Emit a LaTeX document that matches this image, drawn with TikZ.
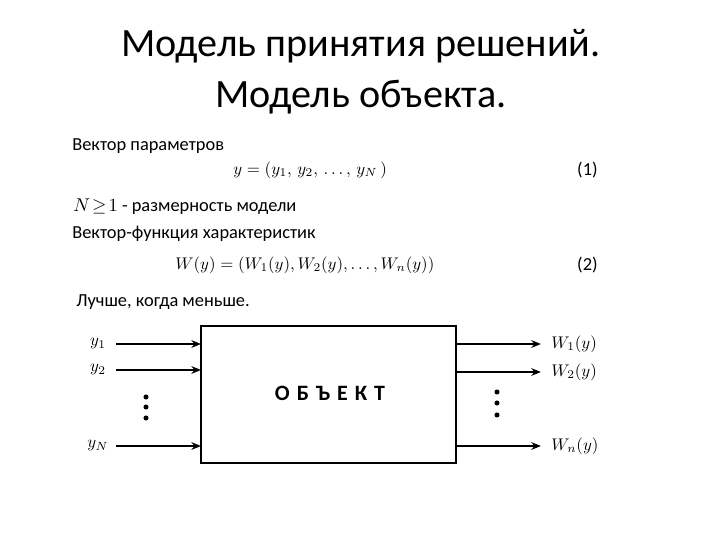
\documentclass[tikz,border=0pt]{standalone}
\usepackage{fontspec}
\setmainfont{Carlito}
\usetikzlibrary{arrows.meta,positioning}

\begin{document}
\begin{tikzpicture}[
  x=1cm/48, y=-1cm/48,
  font=\fontsize{10.9}{12}\selectfont,
  title/.style={font=\fontsize{23.8}{26}\selectfont, inner sep=0pt},
  txt/.style={anchor=west, inner sep=0pt},
  frm/.style={inner sep=0pt, font=\fontsize{10}{12}\selectfont},
  sig/.style={inner sep=0pt, font=\fontsize{10}{12}\selectfont},
  arr/.style={-{Stealth[length=2mm,width=1.6mm]}, line width=1.1pt},
  dot/.style={circle, fill=black, inner sep=0pt, minimum size=3pt}
]
\useasboundingbox (0,0) rectangle (720,540);

% title
\node[title] (t1) at (361,46) {Модель принятия решений.};
\node[title] (t2) at (361,97) {Модель объекта.};

% text block
\node[txt] (vec) at (72,146) {Вектор параметров};
\node[frm, anchor=west] (f1) at (233,170) {$y=(y_1,\,y_2,\,\dots,\,y_N\,)$};
\node[txt, anchor=east] (n1) at (598,170) {(1)};
\node[txt] (dim) at (73,207) {$N\!\ge\!1$\ - размерность модели};
\node[txt] (vf) at (72,234) {Вектор-функция характеристик};
\node[frm, anchor=west] (f2) at (175,265) {$W(y)=(W_1(y),W_2(y),\dots,W_n(y))$};
\node[txt, anchor=east] (n2) at (598,265) {(2)};
\node[txt] (best) at (76,302) {Лучше, когда меньше.};

% object
\draw[line width=1.4pt] (201,326) rectangle (456,463);
\node[inner sep=0pt, font=\fontsize{13}{15}\selectfont\bfseries] (obj) at (330,393)
  {О\hspace{0.32em}Б\hspace{0.32em}Ъ\hspace{0.32em}Е\hspace{0.32em}К\hspace{0.32em}Т};
\coordinate (boxw) at (201,0);
\coordinate (boxe) at (456,0);

% inputs
\node[sig] (y1) at (98,344) {$y_1$};
\node[sig] (y2) at (98,370) {$y_2$};
\node[sig] (yN) at (98,446) {$y_N$};
\foreach \s in {y1,y2,yN}
  \draw[arr] ([xshift=116*1cm/48-98*1cm/48]\s.center) -- (boxw |- \s.center);
\node[dot] (d1) at (146,397) {};
\node[dot] (d2) at (146,407) {};
\node[dot] (d3) at (146,418) {};

% outputs
\node[sig, anchor=west] (w1) at (551,344) {$W_1(y)$};
\node[sig, anchor=west] (w2) at (551,372) {$W_2(y)$};
\node[sig, anchor=west] (wn) at (551,446) {$W_n(y)$};
\foreach \s in {w1,w2,wn}
  \draw[arr] (boxe |- \s.west) -- ([xshift=-6pt]\s.west);
\node[dot] (e1) at (497,392) {};
\node[dot] (e2) at (497,403) {};
\node[dot] (e3) at (497,415) {};
\end{tikzpicture}
\end{document}
